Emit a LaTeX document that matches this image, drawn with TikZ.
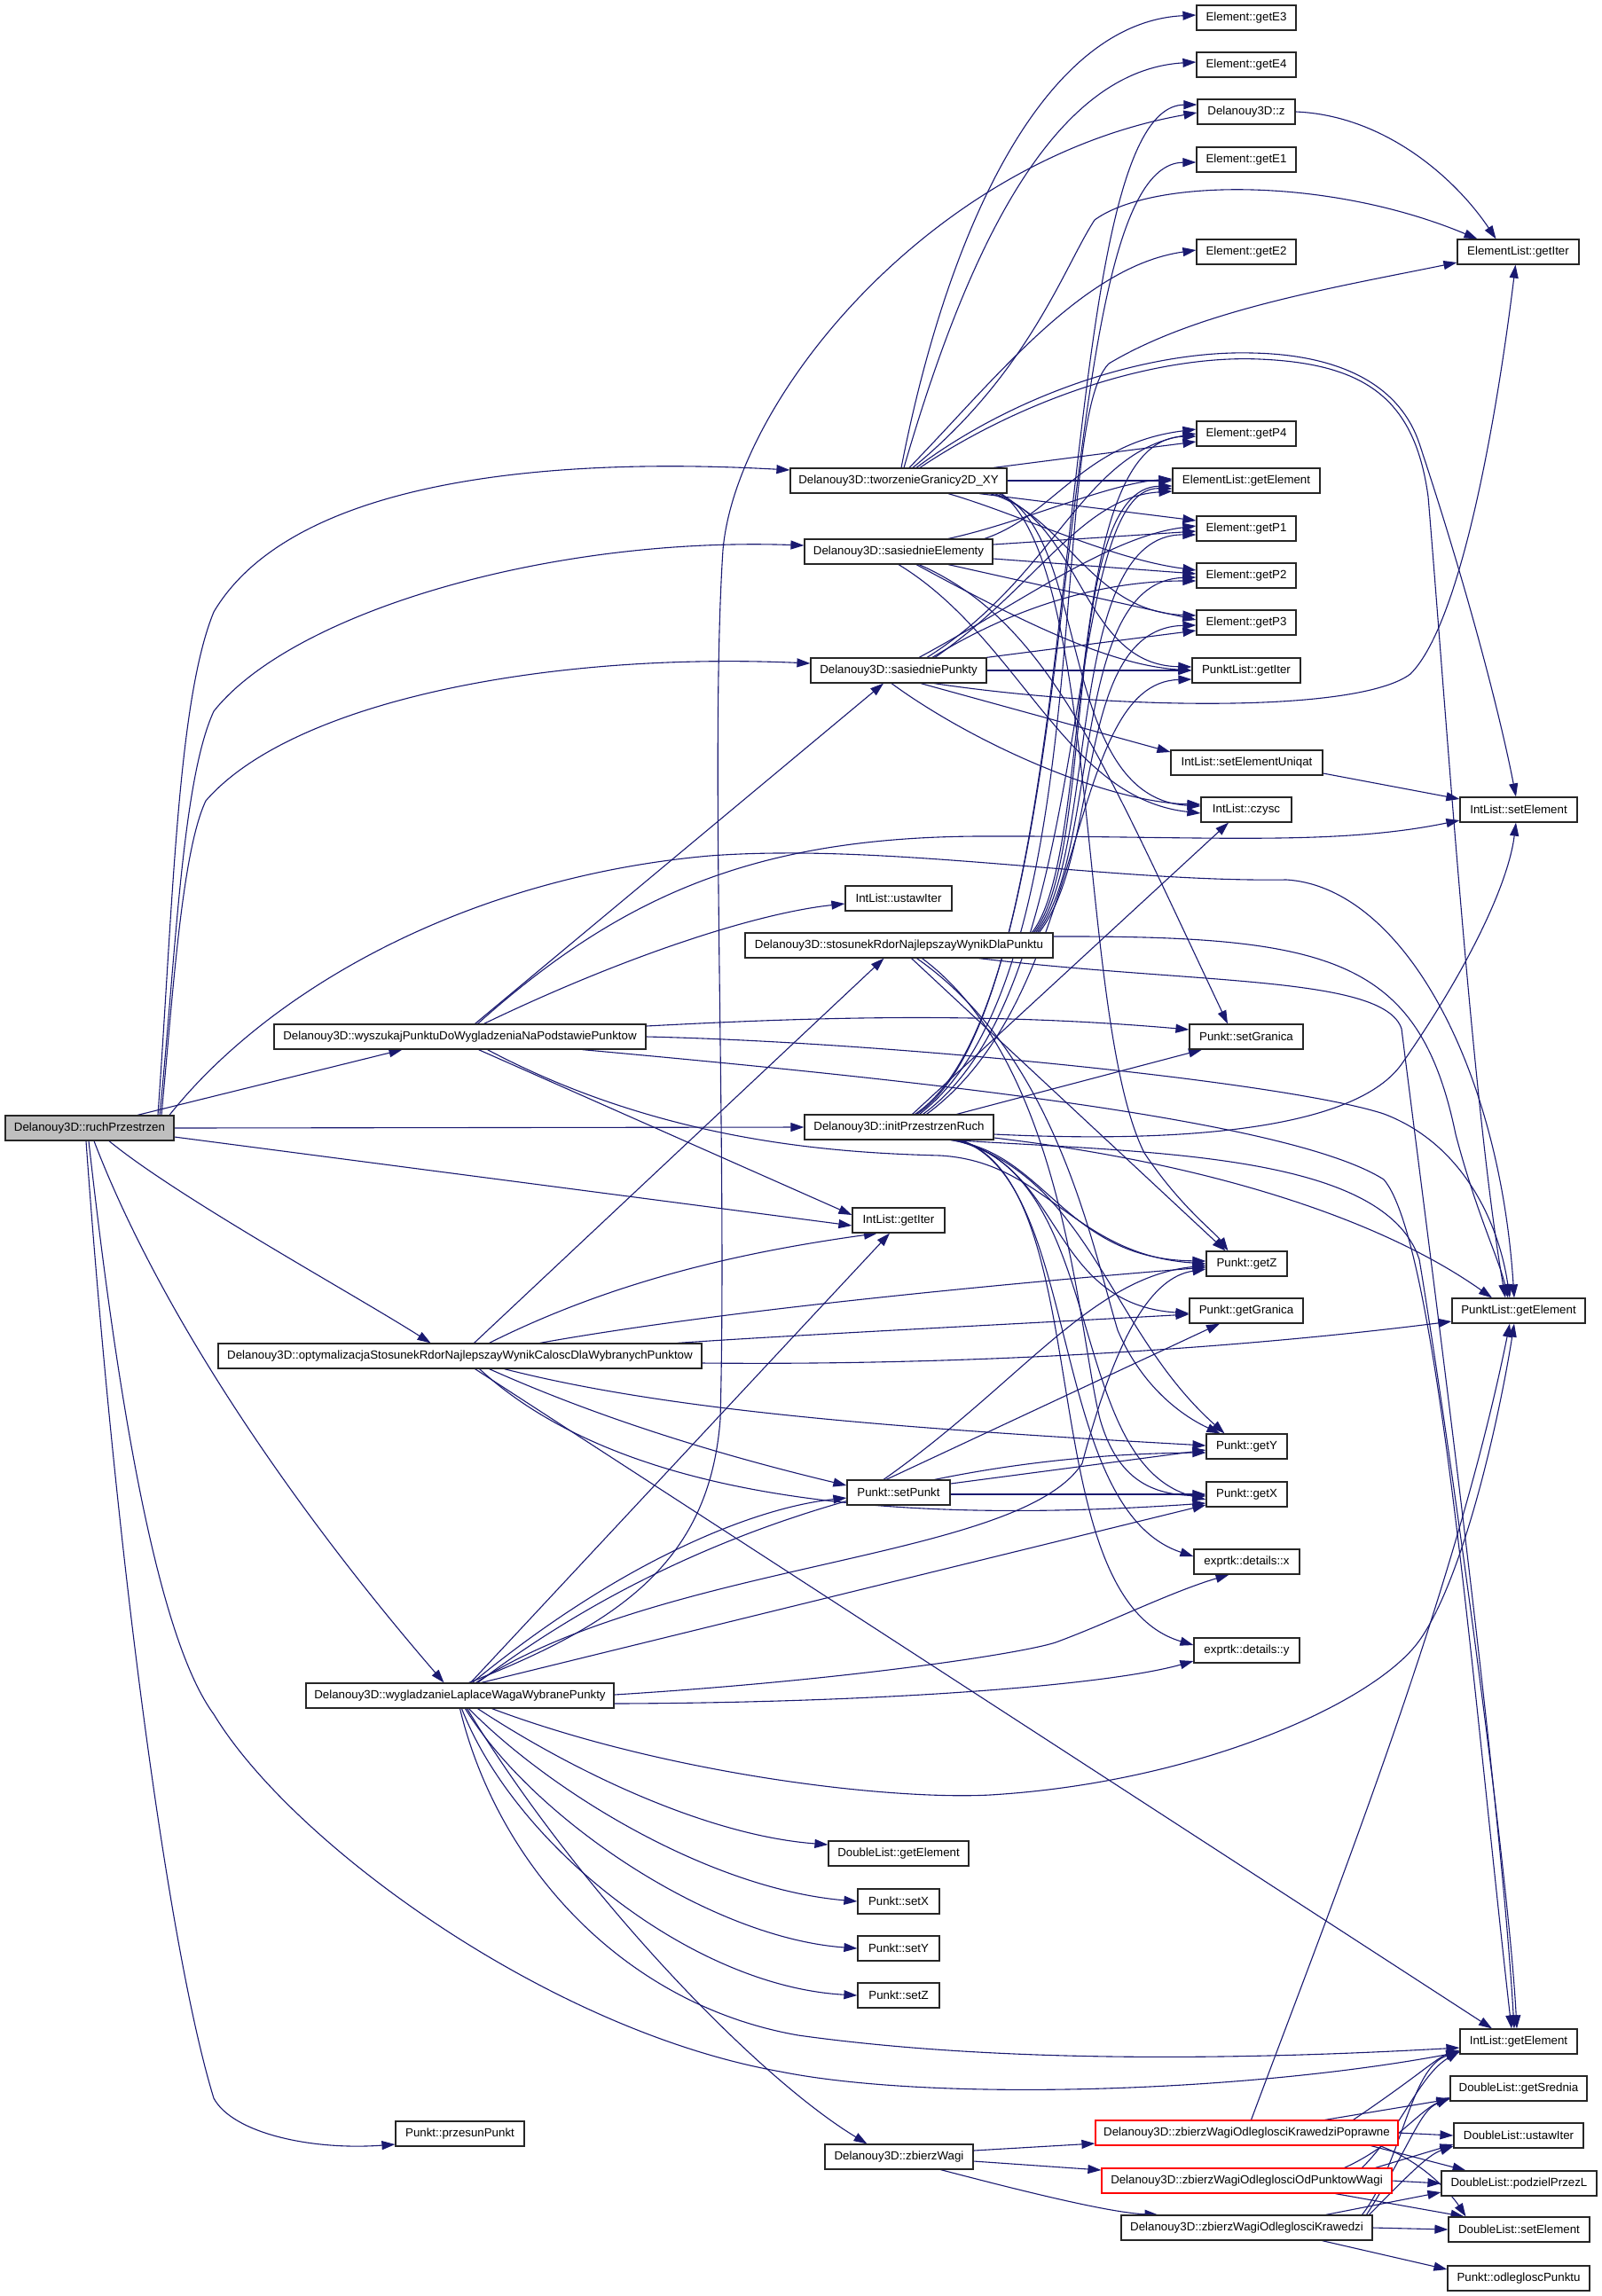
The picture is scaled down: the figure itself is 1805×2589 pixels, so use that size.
\documentclass[tikz,border=0pt]{standalone}
\usepackage{fontspec}
\setmainfont{Liberation Sans}
\usetikzlibrary{arrows.meta,backgrounds}
\definecolor{edgec}{RGB}{25,25,112}
\definecolor{rootfill}{RGB}{191,191,191}
\begin{document}
\begin{tikzpicture}[x=1pt,y=-1pt,
  box/.style={draw=black!85, line width=1.2pt, fill=white, minimum height=28pt, inner sep=0pt, font=\fontsize{13.3}{15}\selectfont},
  redbox/.style={box, draw=red},
  rootbox/.style={box, fill=rootfill},
  e/.style={draw=edgec, line width=1.1pt, -{Triangle[length=15pt,width=10pt]}}]
\useasboundingbox (0,0) rectangle (1805,2589);
% ---------- nodes ----------
\node[rootbox, minimum width=190pt] (R) at (101,1272) {Delanouy3D::ruchPrzestrzen};
\node[box, minimum width=244pt] (T) at (1013,542) {Delanouy3D::tworzenieGranicy2D\_XY};
\node[box, minimum width=212pt] (SE) at (1013,622) {Delanouy3D::sasiednieElementy};
\node[box, minimum width=198pt] (SP) at (1013,756) {Delanouy3D::sasiedniePunkty};
\node[box, minimum width=120pt] (UI) at (1013,1013) {IntList::ustawIter};
\node[box, minimum width=347pt] (ST) at (1013.5,1066) {Delanouy3D::stosunekRdorNajlepszayWynikDlaPunktu};
\node[box, minimum width=419pt] (WY) at (518.5,1169) {Delanouy3D::wyszukajPunktuDoWygladzeniaNaPodstawiePunktow};
\node[box, minimum width=213pt] (IN) at (1013.5,1271) {Delanouy3D::initPrzestrzenRuch};
\node[box, minimum width=104pt] (GI) at (1013,1376) {IntList::getIter};
\node[box, minimum width=545pt] (OP) at (518.5,1529) {Delanouy3D::optymalizacjaStosunekRdorNajlepszayWynikCaloscDlaWybranychPunktow};
\node[box, minimum width=116pt] (SPK) at (1013,1683) {Punkt::setPunkt};
\node[box, minimum width=347pt] (WG) at (518.5,1912) {Delanouy3D::wygladzanieLaplaceWagaWybranePunkty};
\node[box, minimum width=158pt] (DGE) at (1013,2090) {DoubleList::getElement};
\node[box, minimum width=92pt] (SX) at (1013,2144) {Punkt::setX};
\node[box, minimum width=92pt] (SY) at (1013,2197) {Punkt::setY};
\node[box, minimum width=92pt] (SZ) at (1013,2250) {Punkt::setZ};
\node[box, minimum width=145pt] (PP) at (518.5,2406) {Punkt::przesunPunkt};
\node[box, minimum width=167pt] (ZW) at (1013.5,2432) {Delanouy3D::zbierzWagi};
\node[box, minimum width=112pt] (E3) at (1405,20) {Element::getE3};
\node[box, minimum width=112pt] (E4) at (1405,73) {Element::getE4};
\node[box, minimum width=110pt] (Z) at (1405,126) {Delanouy3D::z};
\node[box, minimum width=112pt] (E1) at (1405,180) {Element::getE1};
\node[box, minimum width=112pt] (E2) at (1405,284) {Element::getE2};
\node[box, minimum width=112pt] (P4) at (1405,489) {Element::getP4};
\node[box, minimum width=166pt] (ELE) at (1405,542) {ElementList::getElement};
\node[box, minimum width=112pt] (P1) at (1405,596) {Element::getP1};
\node[box, minimum width=112pt] (P2) at (1405,649) {Element::getP2};
\node[box, minimum width=112pt] (P3) at (1405,702) {Element::getP3};
\node[box, minimum width=122pt] (PLI) at (1405,756) {PunktList::getIter};
\node[box, minimum width=171pt] (SEU) at (1405.5,860) {IntList::setElementUniqat};
\node[box, minimum width=102pt] (CZ) at (1405,913) {IntList::czysc};
\node[box, minimum width=128pt] (SG) at (1405,1169) {Punkt::setGranica};
\node[box, minimum width=91pt] (GZ) at (1405.5,1425) {Punkt::getZ};
\node[box, minimum width=128pt] (GG) at (1405,1478) {Punkt::getGranica};
\node[box, minimum width=91pt] (GY) at (1405.5,1631) {Punkt::getY};
\node[box, minimum width=91pt] (GX) at (1405.5,1685) {Punkt::getX};
\node[box, minimum width=119pt] (EX) at (1405.5,1761) {exprtk::details::x};
\node[box, minimum width=119pt] (EY) at (1405.5,1861) {exprtk::details::y};
\node[redbox, minimum width=341pt] (ZP) at (1405.5,2405) {Delanouy3D::zbierzWagiOdleglosciKrawedziPoprawne};
\node[redbox, minimum width=327pt] (ZO) at (1405.5,2459) {Delanouy3D::zbierzWagiOdleglosciOdPunktowWagi};
\node[box, minimum width=283pt] (ZK) at (1405.5,2512) {Delanouy3D::zbierzWagiOdleglosciKrawedzi};
\node[box, minimum width=137pt] (ELI) at (1711.5,284) {ElementList::getIter};
\node[box, minimum width=132pt] (ISE) at (1712,913) {IntList::setElement};
\node[box, minimum width=150pt] (PGE) at (1712,1478) {PunktList::getElement};
\node[box, minimum width=132pt] (IGE) at (1712,2302) {IntList::getElement};
\node[box, minimum width=154pt] (DGS) at (1712,2355) {DoubleList::getSrednia};
\node[box, minimum width=146pt] (DUI) at (1712,2408) {DoubleList::ustawIter};
\node[box, minimum width=175pt] (DPL) at (1712.5,2462) {DoubleList::podzielPrzezL};
\node[box, minimum width=159pt] (DSE) at (1712.5,2514) {DoubleList::setElement};
\node[box, minimum width=160pt] (PO) at (1712,2569) {Punkt::odlegloscPunktu};
% ---------- edges ----------
\begin{pgfonlayer}{background}
% ruchPrzestrzen
\draw[e] ([xshift=77pt]R.north) .. controls (195,1020) and (200,790) .. (241,690) .. controls (330,540) and (620,515) .. ([yshift=12pt]T.west);
\draw[e] ([xshift=79pt]R.north) .. controls (198,1080) and (205,880) .. (241,802) .. controls (330,690) and (620,605) .. ([yshift=7pt]SE.west);
\draw[e] ([xshift=81pt]R.north) .. controls (195,1120) and (205,960) .. (232,903) .. controls (330,790) and (620,735) .. ([yshift=8pt]SP.west);
\draw[e] ([xshift=90pt]R.north) .. controls (300,1120) and (520,990) .. (800,965) .. controls (1000,950) and (1250,995) .. (1450,992) .. controls (1580,1000) and (1690,1200) .. ([xshift=-5pt]PGE.north);
\draw[e] ([xshift=54pt]R.north) -- ([xshift=-65pt]WY.south);
\draw[e] (R.east) -- (IN.west);
\draw[e] ([yshift=-10pt]R.east) -- ([yshift=-6pt]GI.west);
\draw[e] ([xshift=22pt]R.south) .. controls (200,1350) and (400,1460) .. ([xshift=-33pt]OP.north);
\draw[e] ([xshift=5pt]R.south) .. controls (180,1480) and (330,1700) .. ([xshift=-18pt]WG.north);
\draw[e] ([xshift=-1pt]R.south) .. controls (135,1600) and (180,1850) .. (241,1933) .. controls (330,2080) and (620,2290) .. (880,2336) .. controls (1050,2370) and (1400,2360) .. ([yshift=-12pt]IGE.west);
\draw[e] ([xshift=-4pt]R.south) .. controls (130,1750) and (190,2200) .. (241,2366) .. controls (262,2405) and (350,2425) .. ([yshift=-12pt]PP.west);
% wyszukaj
\draw[e] ([xshift=17pt]WY.north) -- ([xshift=-17pt]SP.south);
\draw[e] ([xshift=20pt]WY.north) .. controls (700,1010) and (850,945) .. (1100,943) .. controls (1350,942) and (1500,955) .. ([yshift=-12pt]ISE.west);
\draw[e] ([xshift=27pt]WY.north) .. controls (700,1080) and (850,1030) .. ([yshift=-6pt]UI.west);
\draw[e] ([yshift=12pt]WY.east) .. controls (900,1148) and (1100,1140) .. ([yshift=8pt]SG.west);
\draw[e] (WY.east) .. controls (1000,1175) and (1450,1220) .. (1560,1256) .. controls (1650,1290) and (1690,1380) .. ([xshift=-10pt]PGE.north);
\draw[e] ([xshift=138pt]WY.south) .. controls (1000,1215) and (1450,1260) .. (1560,1330) .. controls (1620,1400) and (1660,1900) .. ([xshift=-8pt]IGE.north);
\draw[e] ([xshift=21pt]WY.south) -- ([yshift=6pt]GI.west);
\draw[e] ([xshift=31pt]WY.south) .. controls (750,1290) and (950,1300) .. (1060,1303) .. controls (1180,1310) and (1210,1415) .. (GZ.west);
% tworzenie
\draw[e] ([xshift=3pt]T.north) .. controls (1070,250) and (1180,25) .. ([yshift=3pt]E3.west);
\draw[e] ([xshift=6pt]T.north) .. controls (1085,300) and (1180,80) .. ([yshift=3pt]E4.west);
\draw[e] ([xshift=12pt]T.north) .. controls (1120,430) and (1220,300) .. ([yshift=2pt]E2.west);
\draw[e] ([xshift=16pt]T.north) .. controls (1160,420) and (1200,300) .. (1234,248) .. controls (1300,200) and (1500,200) .. ([xshift=-46pt]ELI.north);
\draw[e] ([xshift=20pt]T.north) .. controls (1150,440) and (1300,395) .. (1411,398) .. controls (1520,400) and (1580,440) .. (1600,500) .. controls (1650,650) and (1690,800) .. ([xshift=-3pt]ISE.north);
\draw[e] ([xshift=24pt]T.north) .. controls (1160,445) and (1310,400) .. (1420,405) .. controls (1540,410) and (1595,450) .. (1610,560) .. controls (1630,800) and (1660,1250) .. ([xshift=-15pt]PGE.north);
\draw[e] ([xshift=107pt]T.north) -- ([yshift=-9pt]P4.west);
\draw[e] (T.east) -- (ELE.west);
\draw[e] ([xshift=91pt]T.south) -- ([yshift=9pt]P1.west);
\draw[e] ([xshift=56pt]T.south) .. controls (1150,580) and (1250,630) .. ([yshift=6pt]P2.west);
\draw[e] ([xshift=103pt]T.south) .. controls (1200,580) and (1230,690) .. ([yshift=8pt]P3.west);
\draw[e] ([xshift=108pt]T.south) .. controls (1220,590) and (1220,750) .. ([yshift=4pt]PLI.west);
\draw[e] ([xshift=113pt]T.south) .. controls (1230,600) and (1190,900) .. ([yshift=4pt]CZ.west);
\draw[e] ([xshift=116pt]T.south) .. controls (1240,640) and (1215,1150) .. (1290,1300) .. controls (1330,1360) and (1370,1390) .. ([xshift=-21pt]GZ.north);
% sasiednieElementy
\draw[e] ([xshift=56pt]SE.north) .. controls (1150,590) and (1250,545) .. ([yshift=2pt]ELE.west);
\draw[e] ([xshift=97pt]SE.north) .. controls (1190,580) and (1220,500) .. ([yshift=5pt]P4.west);
\draw[e] ([yshift=8pt]SE.east) -- ([yshift=-3pt]P1.west);
\draw[e] ([yshift=-8pt]SE.east) -- ([yshift=2pt]P2.west);
\draw[e] ([xshift=56pt]SE.south) -- ([yshift=3pt]P3.west);
\draw[e] ([xshift=20pt]SE.south) .. controls (1150,700) and (1250,750) .. (PLI.west);
\draw[e] (SE.south) .. controls (1150,720) and (1200,900) .. ([yshift=-4pt]CZ.west);
\draw[e] ([xshift=23pt]SE.south) .. controls (1180,700) and (1240,850) .. ([xshift=-21pt]SG.north);
% sasiedniePunkty
\draw[e] ([xshift=23pt]SP.north) .. controls (1150,680) and (1250,605) .. ([yshift=3pt]P1.west);
\draw[e] ([xshift=32pt]SP.north) .. controls (1190,650) and (1220,510) .. (P4.west);
\draw[e] ([xshift=38pt]SP.north) .. controls (1150,680) and (1250,655) .. ([yshift=-6pt]P2.west);
\draw[e] ([xshift=41pt]SP.north) .. controls (1170,660) and (1220,560) .. ([yshift=-12pt]ELE.west);
\draw[e] ([xshift=99pt]SP.north) -- ([yshift=-9pt]P3.west);
\draw[e] (SP.east) -- (PLI.west);
\draw[e] ([xshift=40pt]SP.south) .. controls (1250,800) and (1530,805) .. (1590,760) .. controls (1650,700) and (1690,450) .. ([xshift=-3pt]ELI.south);
\draw[e] ([xshift=25pt]SP.south) -- ([yshift=12pt]SEU.west);
\draw[e] ([xshift=-8pt]SP.south) .. controls (1100,840) and (1250,905) .. ([yshift=6pt]CZ.west);
% small ones
\draw[e] ([yshift=-12pt]SEU.east) -- ([yshift=12pt]ISE.west);
\draw[e] (Z.east) .. controls (1560,130) and (1640,200) .. ([xshift=-25pt]ELI.north);
% stosunek
\draw[e] ([xshift=150pt]ST.north) .. controls (1235,960) and (1195,495) .. ([yshift=-3pt]P4.west);
\draw[e] ([xshift=152pt]ST.north) .. controls (1237,960) and (1195,550) .. ([yshift=-6pt]ELE.west);
\draw[e] ([xshift=154pt]ST.north) .. controls (1239,960) and (1200,602) .. ([yshift=-7pt]P1.west);
\draw[e] ([xshift=156pt]ST.north) .. controls (1241,960) and (1205,655) .. ([yshift=-2pt]P2.west);
\draw[e] ([xshift=158pt]ST.north) .. controls (1243,960) and (1210,708) .. ([yshift=-3pt]P3.west);
\draw[e] ([yshift=10pt]ST.east) .. controls (1500,1055) and (1600,1080) .. (1641,1279) .. controls (1665,1370) and (1690,1420) .. ([xshift=-12pt]PGE.north);
\draw[e] ([xshift=90pt]ST.south) .. controls (1350,1110) and (1560,1100) .. (1580,1160) .. controls (1610,1400) and (1690,2000) .. ([xshift=-5pt]IGE.north);
\draw[e] ([xshift=14pt]ST.south) -- ([xshift=-24pt]GZ.north);
\draw[e] ([xshift=20pt]ST.south) .. controls (1190,1190) and (1230,1400) .. (1260,1500) .. controls (1290,1570) and (1340,1600) .. ([xshift=-30pt]GY.north);
\draw[e] ([xshift=26pt]ST.south) .. controls (1200,1200) and (1215,1500) .. (1240,1600) .. controls (1260,1670) and (1300,1685) .. ([yshift=-2pt]GX.west);
% initPrzestrzenRuch
\draw[e] ([xshift=18pt]IN.north) .. controls (1235,1120) and (1175,185) .. ([yshift=-3pt]E1.west);
\draw[e] ([xshift=20pt]IN.north) .. controls (1237,1120) and (1178,120) .. ([yshift=8pt]Z.west);
\draw[e] ([xshift=23pt]IN.north) .. controls (1240,1100) and (1180,480) .. (1250,410) .. controls (1350,350) and (1500,325) .. ([yshift=-12pt]ELI.west);
\draw[e] ([xshift=27pt]IN.north) .. controls (1242,1110) and (1192,548) .. ([yshift=-9pt]ELE.west);
\draw[e] ([xshift=31pt]IN.north) .. controls (1230,1120) and (1200,770) .. ([yshift=-10pt]PLI.west);
\draw[e] ([xshift=15pt]IN.north) -- ([xshift=-20pt]CZ.south);
\draw[e] ([xshift=65pt]IN.north) -- ([xshift=-50pt]SG.south);
\draw[e] ([yshift=-8pt]IN.east) .. controls (1350,1290) and (1530,1270) .. (1580,1200) .. controls (1650,1100) and (1700,1000) .. ([xshift=-3pt]ISE.south);
\draw[e] ([yshift=-12pt]IN.east) .. controls (1350,1310) and (1550,1370) .. ([xshift=-30pt]PGE.north);
\draw[e] ([xshift=62pt]IN.south) .. controls (1300,1300) and (1560,1300) .. (1600,1420) .. controls (1630,1600) and (1700,2100) .. ([xshift=-2pt]IGE.north);
\draw[e] ([xshift=58pt]IN.south) .. controls (1180,1300) and (1200,1420) .. ([yshift=3pt]GZ.west);
\draw[e] ([xshift=60pt]IN.south) .. controls (1200,1310) and (1180,1470) .. ([yshift=-3pt]GG.west);
\draw[e] ([xshift=64pt]IN.south) .. controls (1230,1330) and (1250,1500) .. ([xshift=-25pt]GY.north);
\draw[e] ([xshift=66pt]IN.south) .. controls (1250,1330) and (1200,1650) .. ([yshift=-6pt]GX.west);
\draw[e] ([xshift=68pt]IN.south) .. controls (1220,1330) and (1180,1700) .. ([yshift=6pt]EX.west);
\draw[e] ([xshift=70pt]IN.south) .. controls (1240,1340) and (1160,1800) .. ([yshift=6pt]EY.west);
% optymalizacja
\draw[e] ([xshift=16pt]OP.north) -- ([xshift=-17pt]ST.south);
\draw[e] ([xshift=33pt]OP.north) .. controls (700,1440) and (850,1410) .. ([xshift=-24pt]GI.south);
\draw[e] ([xshift=90pt]OP.north) .. controls (800,1480) and (1100,1450) .. ([yshift=-4pt]GZ.west);
\draw[e] ([xshift=245pt]OP.north) .. controls (900,1505) and (1200,1490) .. ([yshift=-4pt]GG.west);
\draw[e] ([yshift=-8pt]OP.east) .. controls (1100,1540) and (1400,1520) .. ([yshift=-12pt]PGE.west);
\draw[e] ([xshift=50pt]OP.south) .. controls (750,1590) and (1000,1610) .. ([yshift=1pt]GY.west);
\draw[e] ([xshift=33pt]OP.south) .. controls (700,1610) and (850,1650) .. ([yshift=8pt]SPK.west);
\draw[e] ([xshift=22pt]OP.south) .. controls (700,1690) and (1000,1720) .. ([yshift=-10pt]GX.west);
\draw[e] ([xshift=17pt]OP.south) -- ([xshift=-30pt]IGE.north);
% setPunkt
\draw[e] ([xshift=-17pt]SPK.north) .. controls (1150,1560) and (1230,1440) .. ([yshift=-2pt]GZ.west);
\draw[e] ([xshift=-14pt]SPK.north) -- ([xshift=-30pt]GG.south);
\draw[e] ([yshift=10pt]SPK.east) -- ([yshift=-4pt]GY.west);
\draw[e] ([yshift=-2pt]SPK.east) -- (GX.west);
% wygladzanie
\draw[e] ([xshift=10pt]WG.north) .. controls (700,1830) and (800,1760) .. (812,1600) .. controls (820,1300) and (800,850) .. (815,620) .. controls (830,450) and (1050,180) .. ([yshift=-1pt]Z.west);
\draw[e] ([xshift=12pt]WG.north) -- ([xshift=-10pt]GI.south);
\draw[e] ([xshift=14pt]WG.north) .. controls (700,1760) and (850,1700) .. ([yshift=-6pt]SPK.west);
\draw[e] ([xshift=18pt]WG.north) .. controls (750,1760) and (1150,1760) .. (1220,1650) .. controls (1260,1500) and (1300,1440) .. ([yshift=-6pt]GZ.west);
\draw[e] ([xshift=20pt]WG.north) .. controls (800,1700) and (1100,1640) .. ([yshift=-7pt]GY.west);
\draw[e] ([xshift=24pt]WG.north) -- ([yshift=-12pt]GX.west);
\draw[e] ([yshift=1pt]WG.east) .. controls (950,1895) and (1150,1865) .. (1190,1852) .. controls (1250,1830) and (1320,1795) .. ([xshift=-20pt]EX.south);
\draw[e] ([yshift=-9pt]WG.east) .. controls (1000,1920) and (1250,1900) .. ([yshift=-12pt]EY.west);
\draw[e] ([xshift=36pt]WG.south) .. controls (750,2000) and (1000,2030) .. (1116,2024) .. controls (1350,2010) and (1550,1920) .. (1600,1850) .. controls (1650,1780) and (1690,1600) .. ([xshift=-5pt]PGE.south);
\draw[e] ([xshift=20pt]WG.south) .. controls (650,2000) and (800,2070) .. ([yshift=10pt]DGE.west);
\draw[e] ([xshift=10pt]WG.south) .. controls (620,2020) and (800,2130) .. (SX.west);
\draw[e] ([xshift=6pt]WG.south) .. controls (600,2050) and (800,2185) .. (SY.west);
\draw[e] ([xshift=2pt]WG.south) .. controls (580,2080) and (780,2240) .. (SZ.west);
\draw[e] (WG.south) .. controls (560,2100) and (700,2260) .. (900,2295) .. controls (1150,2330) and (1450,2320) .. ([yshift=-7pt]IGE.west);
\draw[e] ([xshift=8pt]WG.south) .. controls (650,2130) and (850,2340) .. ([xshift=-36pt]ZW.north);
% zbierzWagi
\draw[e] ([yshift=7pt]ZW.east) -- ([yshift=-12pt]ZP.west);
\draw[e] ([yshift=-5pt]ZW.east) -- ([yshift=12pt]ZO.west);
\draw[e] ([xshift=47pt]ZW.south) .. controls (1150,2470) and (1250,2495) .. ([xshift=-100pt]ZK.north);
% zbierzWagiOdleglosciKrawedziPoprawne
\draw[e] ([xshift=5pt]ZP.north) .. controls (1500,2150) and (1640,1800) .. ([xshift=-10pt]PGE.south);
\draw[e] ([xshift=120pt]ZP.north) .. controls (1600,2340) and (1620,2320) .. ([yshift=-10pt]IGE.west);
\draw[e] ([xshift=88pt]ZP.north) -- ([yshift=-12pt]DGS.west);
\draw[e] (ZP.east) -- (DUI.west);
\draw[e] ([xshift=140pt]ZP.south) -- ([xshift=-60pt]DPL.north);
\draw[e] ([xshift=150pt]ZP.south) .. controls (1610,2440) and (1640,2480) .. ([xshift=-60pt]DSE.north);
% zbierzWagiOdleglosciOdPunktowWagi
\draw[e] ([xshift=130pt]ZO.north) .. controls (1580,2400) and (1600,2340) .. ([yshift=-11pt]IGE.west);
\draw[e] ([xshift=110pt]ZO.north) .. controls (1570,2420) and (1600,2380) .. ([yshift=-10pt]DGS.west);
\draw[e] ([xshift=145pt]ZO.north) -- ([yshift=-10pt]DUI.west);
\draw[e] (ZO.east) -- (DPL.west);
\draw[e] ([xshift=100pt]ZO.south) -- ([xshift=-62pt]DSE.north);
% zbierzWagiOdleglosciKrawedzi
\draw[e] ([xshift=130pt]ZK.north) .. controls (1580,2440) and (1590,2330) .. ([yshift=-12pt]IGE.west);
\draw[e] ([xshift=135pt]ZK.north) .. controls (1590,2420) and (1600,2380) .. ([yshift=-11pt]DGS.west);
\draw[e] ([xshift=138pt]ZK.north) .. controls (1590,2450) and (1610,2430) .. ([yshift=-12pt]DUI.west);
\draw[e] ([xshift=89pt]ZK.north) -- ([yshift=-10pt]DPL.west);
\draw[e] (ZK.east) -- (DSE.west);
\draw[e] ([xshift=85pt]ZK.south) -- ([yshift=10pt]PO.west);
\end{pgfonlayer}
\end{tikzpicture}
\end{document}
